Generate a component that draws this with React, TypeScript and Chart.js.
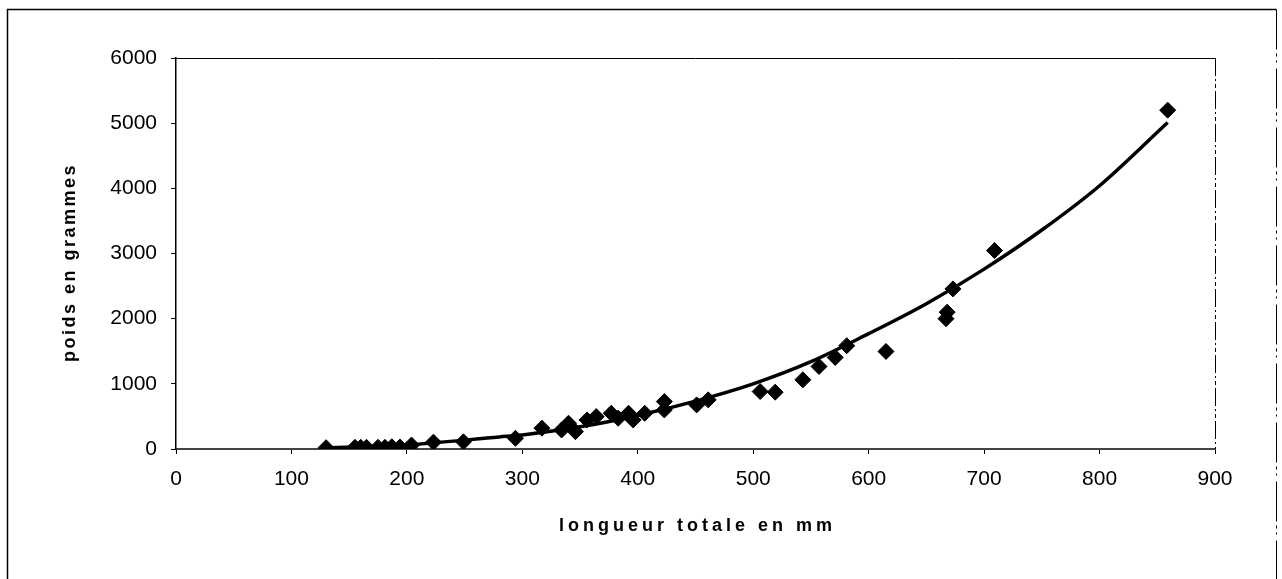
import React, { useEffect, useRef } from "react";
import { Chart, registerables } from "chart.js";

Chart.register(...registerables);

// Observed fish: total length (mm) and weight (g)
const lengths = [
  130, 155, 160, 165, 175, 181, 187, 194, 204, 223, 249, 294, 317, 334, 340,
  346, 356, 364, 377, 383, 392, 396, 406, 423, 423, 451, 461, 506, 519, 543,
  557, 571, 581, 615, 667, 668, 673, 709, 859,
];
const weights = [
  20, 25, 25, 25, 25, 25, 35, 30, 60, 105, 110, 164, 320, 292, 395,
  266, 446, 497, 548, 472, 548, 446, 548, 728, 600, 677, 754, 882, 872, 1062,
  1266, 1405, 1585, 1497, 2000, 2100, 2457, 3046, 5200,
];

// Trend curve
const trendLengths = [130, 200, 280, 300, 350, 400, 450, 500, 550, 600, 650, 700, 750, 800, 859];
const trendWeights = [18, 64, 185, 216, 340, 515, 735, 1000, 1340, 1770, 2230, 2760, 3360, 4040, 5010];

const xTitle = "longueur totale en mm";
const yTitle = "poids en grammes";
const xMin = 0;
const xMax = 900;
const xStep = 100;
const yMin = 0;
const yMax = 6000;
const yStep = 1000;

const FONT = '"Liberation Sans", Arial, Helvetica, sans-serif';

const framePlugin = {
  id: "frame",
  afterDraw(chart: any) {
    const { ctx, chartArea: a, width, height } = chart;
    ctx.save();
    ctx.strokeStyle = "#000";
    ctx.lineWidth = 1;
    // plot area top border
    ctx.beginPath();
    ctx.moveTo(a.left, Math.round(a.top) + 0.5);
    ctx.lineTo(a.right, Math.round(a.top) + 0.5);
    ctx.stroke();
    // plot area right border (broken)
    ctx.setLineDash([18, 3, 2, 3, 4, 3]);
    ctx.beginPath();
    ctx.moveTo(Math.round(a.right) + 0.5, a.top);
    ctx.lineTo(Math.round(a.right) + 0.5, a.bottom);
    ctx.stroke();
    ctx.setLineDash([]);
    // outer frame
    ctx.lineWidth = 1.5;
    ctx.beginPath();
    ctx.moveTo(7.5, height);
    ctx.lineTo(7.5, 9.5);
    ctx.lineTo(width - 5.5, 9.5);
    ctx.stroke();
    ctx.lineWidth = 1;
    ctx.setLineDash([40, 4, 3, 4, 2, 6]);
    ctx.beginPath();
    ctx.moveTo(width - 5.5, 9.5);
    ctx.lineTo(width - 5.5, height);
    ctx.stroke();
    ctx.setLineDash([]);

    // axis titles
    ctx.fillStyle = "#000";
    ctx.textAlign = "center";
    ctx.textBaseline = "middle";
    ctx.font = `bold 18px ${FONT}`;
    (ctx as any).letterSpacing = "4px";
    ctx.fillText(xTitle, (a.left + a.right) / 2 + 2, a.bottom + 77);
    ctx.font = `bold 18px ${FONT}`;
    (ctx as any).letterSpacing = "2.5px";
    ctx.translate(a.left - 106, (a.top + a.bottom) / 2 + 10);
    ctx.rotate(-Math.PI / 2);
    ctx.fillText(yTitle, 1, 0);
    ctx.restore();
  },
};

export default function App() {
  const ref = useRef<HTMLCanvasElement>(null);

  useEffect(() => {
    if (!ref.current) return;
    const chart = new Chart(ref.current, {
      type: "scatter",
      data: {
        datasets: [
          {
            label: "poids",
            data: lengths.map((x, i) => ({ x, y: weights[i] })),
            pointStyle: "rectRot",
            pointRadius: 8,
            pointBorderWidth: 1,
            backgroundColor: "#000",
            borderColor: "#000",
            order: 2,
          },
          {
            type: "line",
            label: "tendance",
            data: trendLengths.map((x, i) => ({ x, y: trendWeights[i] })),
            borderColor: "#000",
            borderWidth: 3.5,
            pointRadius: 0,
            tension: 0.4,
            cubicInterpolationMode: "monotone",
            fill: false,
            order: 1,
          } as any,
        ],
      },
      options: {
        responsive: false,
        animation: false,
        events: [],
        layout: { padding: { left: 50, top: 58, right: 67, bottom: 30 } },
        plugins: {
          legend: { display: false },
          tooltip: { enabled: false },
          title: { display: false },
        },
        scales: {
          x: {
            type: "linear",
            min: xMin,
            max: xMax,
            ticks: {
              stepSize: xStep,
              color: "#000",
              padding: 13,
              font: { family: FONT, size: 21 },
              callback: (v: any) => String(v),
            },
            grid: {
              drawOnChartArea: false,
              drawTicks: true,
              tickLength: 5,
              color: "#000",
            },
            border: { display: true, color: "#444", width: 2 },
            afterFit(scale: any) {
              scale.height = 100;
            },
          },
          y: {
            type: "linear",
            min: yMin,
            max: yMax,
            ticks: {
              stepSize: yStep,
              color: "#000",
              padding: 14,
              font: { family: FONT, size: 21 },
              callback: (v: any) => String(v),
            },
            grid: {
              drawOnChartArea: false,
              drawTicks: true,
              tickLength: 5,
              color: "#000",
            },
            border: { display: true, color: "#000", width: 1.5 },
            afterFit(scale: any) {
              scale.width = 126;
            },
          },
        },
      },
      plugins: [framePlugin],
    });
    return () => chart.destroy();
  }, []);

  return (
    <div style={{ position: "fixed", left: 0, top: 0, width: 1282, height: 579, background: "#fff" }}>
      <canvas ref={ref} width={1282} height={579} style={{ display: "block" }} />
    </div>
  );
}
